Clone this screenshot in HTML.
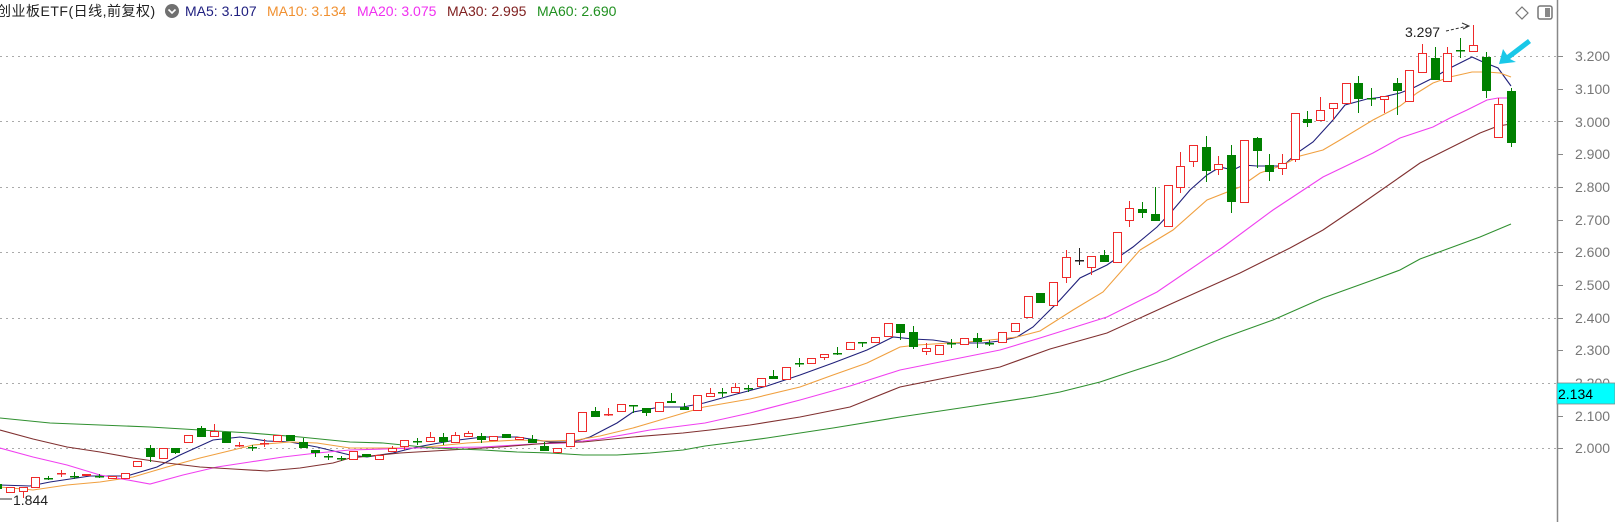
<!DOCTYPE html>
<html><head><meta charset="utf-8"><style>
html,body{margin:0;padding:0;background:#fff;width:1615px;height:522px;overflow:hidden;font-family:"Liberation Sans","Noto Sans CJK SC",sans-serif}
#wrap{position:relative;width:1615px;height:522px}
svg{position:absolute;left:0;top:0}
.hd{position:absolute;top:3px;font-size:14px;white-space:nowrap;line-height:16px}
.ax{font-size:14px;fill:#777}
</style></head><body><div id="wrap">
<svg id="s" width="1615" height="522" xmlns="http://www.w3.org/2000/svg">
<g id="grid" stroke="#aaa" stroke-width="1" stroke-dasharray="2 4"></g>
<g id="lines" fill="none" stroke-width="1.1"></g>
<g id="candles" shape-rendering="crispEdges"></g>
<line x1="1557.5" y1="0" x2="1557.5" y2="522" stroke="#888" stroke-width="1.5"/>
<g id="ticks" stroke="#888"></g>
<g class="ax">
<text x="1575" y="61">3.200</text><text x="1575" y="94">3.100</text><text x="1575" y="127">3.000</text>
<text x="1575" y="159">2.900</text><text x="1575" y="192">2.800</text><text x="1575" y="225">2.700</text>
<text x="1575" y="257">2.600</text><text x="1575" y="290">2.500</text><text x="1575" y="323">2.400</text>
<text x="1575" y="355">2.300</text><text x="1575" y="388">2.200</text><text x="1575" y="421">2.100</text>
<text x="1575" y="453">2.000</text>
</g>
<rect x="1557" y="383" width="58" height="21" fill="#00ffff" stroke="#888" stroke-width="0.8"/>
<text x="1558" y="399" font-size="14" fill="#000">2.134</text>
<text x="1405" y="37" font-size="14" fill="#222">3.297</text>
<path d="M1446 31 L1468 26" stroke="#333" stroke-dasharray="3 2" fill="none"/>
<path d="M1462 23 L1469 26 L1463 29" stroke="#333" fill="none"/>
<text x="13" y="505" font-size="14" fill="#222">1.844</text>
<path d="M0 499 L12 499" stroke="#333" fill="none"/>
<polygon points="1499,64 1503,49 1507,55 1528,39 1531,43 1510,59 1516,62" fill="#19c8e8"/>
<polygon points="1522,7 1528,13 1522,19 1516,13" fill="none" stroke="#777" stroke-width="1.2"/>
<rect x="1538" y="6" width="14" height="13" rx="2" fill="#fff" stroke="#777" stroke-width="1.5"/>
<rect x="1545" y="8" width="5" height="9" fill="#888"/>
<circle cx="172" cy="11" r="7" fill="#707070"/>
<path d="M168.5 9.5 L172 13 L175.5 9.5" stroke="#fff" stroke-width="1.6" fill="none"/>
</svg>
<div class="hd" style="left:-3px;color:#222;letter-spacing:0.5px">创业板ETF(日线,前复权)</div>
<div class="hd" style="left:185px;color:#202080">MA5: 3.107</div>
<div class="hd" style="left:267px;color:#f09030">MA10: 3.134</div>
<div class="hd" style="left:357px;color:#f030f0">MA20: 3.075</div>
<div class="hd" style="left:447px;color:#802020">MA30: 2.995</div>
<div class="hd" style="left:537px;color:#209020">MA60: 2.690</div>
</div>
<script>
var NS="http://www.w3.org/2000/svg";
function el(p,t,a){var e=document.createElementNS(NS,t);for(var k in a)e.setAttribute(k,a[k]);p.appendChild(e);return e;}
var g=document.getElementById('grid');
[56,121.4,186.8,252.2,317.6,383,448.4].forEach(function(y){el(g,'line',{x1:0,x2:1563,y1:Math.round(y)+.5,y2:Math.round(y)+.5});});
var tk=document.getElementById('ticks');
for(var k=0;k<=12;k++){var y=Math.round(56+k*32.7)+.5;el(tk,'line',{x1:1557,x2:1563,y1:y,y2:y});}
var L=document.getElementById('lines');
var ma={
'#20207a':[[0,485],[30,486],[50,482],[90,476],[127,476],[157,467],[180,455],[213,440],[240,437],[267,441],[290,442],[317,447],[350,455],[367,457],[393,453],[417,447],[450,441],[483,437],[517,437],[550,442],[573,442],[590,437],[617,423],[633,412],[660,407],[683,407],[704,403],[733,395],[767,386],[800,375],[833,363],[867,350],[893,337],[913,339],[933,340],[953,343],[983,343],[1000,341],[1017,337],[1033,327],[1045,315],[1060,300],[1080,278],[1107,265],[1133,247],[1157,227],[1173,210],[1190,190],[1207,175],[1220,167],[1233,170],[1243,165],[1257,166],[1283,166],[1297,153],[1313,142],[1333,120],[1345,105],[1367,99],[1383,97],[1400,93],[1413,88],[1433,78],[1450,68],[1472,57],[1483,62],[1498,68],[1511,86]],
'#f0a040':[[0,487],[33,490],[67,485],[100,482],[133,477],[167,467],[200,458],[233,450],[253,445],[290,442],[317,443],[350,448],[417,448],[467,443],[517,440],[550,441],[577,440],[600,436],[633,428],[667,418],[704,407],[750,399],[800,387],[833,375],[867,363],[900,347],[917,345],[967,342],[1000,339],[1017,337],[1040,331],[1073,310],[1103,292],[1140,250],[1173,230],[1207,200],[1240,187],[1260,173],[1283,165],[1300,156],[1323,150],[1340,140],[1373,120],[1400,106],[1417,93],[1433,83],[1450,77],[1472,72],[1487,72],[1500,73],[1511,77]],
'#f040f0':[[0,448],[33,457],[67,465],[100,475],[150,484],[183,475],[217,467],[250,462],[283,457],[317,453],[350,450],[417,448],[483,447],[533,444],[567,443],[600,439],[650,430],[705,423],[750,413],[800,400],[850,386],[900,370],[950,360],[1000,350],[1040,338],[1107,317],[1157,292],[1223,247],[1273,210],[1323,177],[1373,153],[1400,138],[1433,127],[1450,118],[1467,110],[1487,100],[1498,98],[1511,98]],
'#803030':[[0,430],[33,439],[67,447],[100,452],[133,458],[167,463],[200,467],[233,469],[267,471],[300,468],[333,463],[350,458],[400,453],[450,450],[500,447],[550,443],[583,442],[633,437],[683,433],[710,430],[750,425],[800,417],[850,407],[900,387],[950,377],[1000,367],[1050,349],[1107,333],[1173,303],[1240,273],[1290,248],[1323,230],[1357,207],[1400,177],[1420,163],[1450,148],[1480,133],[1498,126],[1511,124]],
'#309030':[[0,418],[50,423],[100,425],[150,427],[200,430],[250,433],[300,437],[350,442],[383,443],[433,448],[483,450],[517,452],[550,453],[583,455],[617,455],[650,453],[683,450],[705,446],[767,438],[833,428],[900,417],[967,407],[1033,397],[1060,392],[1100,382],[1130,372],[1167,360],[1223,338],[1273,320],[1323,298],[1373,280],[1400,270],[1420,259],[1450,248],[1480,237],[1511,224]]};
for(var c in ma){el(L,'polyline',{points:ma[c].map(function(p){return p.join(',');}).join(' '),stroke:c});}
var D=[[0,'g',484,489],[1,'r',487,493],[2,'r',487,492,487,498],[3,'r',477,488],[4,'g',478,478,476,480],[5,'r',473,473,470,477],[6,'g',476,476,472,479],[7,'r',474,476],[8,'g',476,476,474,478],[9,'r',476,479],[10,'r',473,479],[11,'r',461,467],[12,'g',448,457,445,462],[13,'r',448,459],[14,'g',448,453,448,454],[15,'r',435,443],[16,'g',428,437,426,437],[17,'r',431,437,424,437],[18,'g',432,443],[19,'r',445,445,442,447],[20,'g',447,447,445,451],[21,'r',443,443,439,447],[22,'r',435,442],[23,'g',435,441],[24,'g',442,448,438,448],[25,'g',450,453,450,457],[26,'g',456,456,454,460],[27,'g',458,458,456,461],[28,'r',451,460],[29,'g',454,457],[30,'r',455,460],[31,'r',448,452,446,452],[32,'r',440,447,440,450],[33,'g',441,441,438,445],[34,'r',437,442,432,442],[35,'g',437,442,433,445],[36,'r',435,443,432,443],[37,'r',433,437,431,437],[38,'g',436,440,433,443],[39,'r',436,441],[40,'g',434,438],[41,'r',437,440],[42,'g',439,443,435,443],[43,'g',446,451,442,451],[44,'r',448,453],[45,'r',433,447],[46,'r',412,432],[47,'g',411,417,407,417],[48,'r',414,414,408,416],[49,'r',404,412],[50,'g',405,405,405,413],[51,'g',408,413,408,416],[52,'r',402,412],[53,'g',401,403,393,403],[54,'g',407,410,403,410],[55,'r',395,411],[56,'r',393,397,388,397],[57,'g',392,392,388,397],[58,'r',387,393,383,393],[59,'g',388,388,385,392],[60,'r',378,387],[61,'g',376,379,370,379],[62,'r',367,380],[63,'g',363,363,358,367],[64,'r',358,364],[65,'r',354,358,354,360],[66,'g',353,353,347,355],[67,'r',342,350],[68,'g',342,342,342,347],[69,'r',337,343],[70,'r',323,337],[71,'g',324,333,324,340],[72,'g',332,347,326,349],[73,'r',348,352,343,355],[74,'r',345,355],[75,'g',343,343,339,348],[76,'r',338,345],[77,'g',338,342,333,348],[78,'g',343,343,340,346],[79,'r',332,343],[80,'r',323,332],[81,'r',296,318],[82,'g',293,303],[83,'r',282,306],[84,'r',257,278,250,283],[85,'k',260,260,248,265],[86,'r',256,268,256,275],[87,'g',255,262,250,262],[88,'r',232,263],[89,'r',208,221,201,227],[90,'g',209,213,202,218],[91,'g',214,221,187,221],[92,'r',185,227],[93,'r',166,188,152,193],[94,'r',145,162,145,167],[95,'g',147,171,136,182],[96,'r',164,170,156,175],[97,'g',155,202,145,213],[98,'r',140,203],[99,'g',138,151,137,168],[100,'g',165,172,154,181],[101,'r',163,169,154,175],[102,'r',113,160,113,162],[103,'g',119,123,111,127],[104,'r',110,121,97,121],[105,'r',103,109,103,120],[106,'r',83,104],[107,'g',83,99,76,113],[108,'g',98,98,88,106],[109,'r',96,100,96,113],[110,'g',83,91,78,115],[111,'r',70,102],[112,'r',53,73,44,73],[113,'g',58,80,47,80],[114,'r',53,82,47,82],[115,'g',50,50,38,58],[116,'r',45,52,25,52],[117,'g',57,91,52,98],[118,'r',104,138,98,138],[119,'g',91,143,88,147]];
var C=document.getElementById('candles');
D.forEach(function(d){
 var x=Math.round(-2.7+12.72*d[0]);var t=d[2],b=d[3],h=d.length>4?d[4]:t,l=d.length>4?d[5]:b;
 var col=d[1]=='r'?'#ee2a2a':(d[1]=='g'?'#008000':'#222');
 if(h<t)el(C,'line',{x1:x+.5,x2:x+.5,y1:h,y2:t,stroke:col});
 if(l>b)el(C,'line',{x1:x+.5,x2:x+.5,y1:b,y2:l,stroke:col});
 if(b-t<1.5){el(C,'rect',{x:x-4,y:t,width:9,height:1.5,fill:col});}
 else if(d[1]=='r'){el(C,'rect',{x:x-3.5,y:t+.5,width:8,height:b-t-1,fill:'#fff',stroke:col,'stroke-width':1.2});}
 else el(C,'rect',{x:x-4,y:t,width:9,height:b-t,fill:col});
});
</script>
</body></html>
